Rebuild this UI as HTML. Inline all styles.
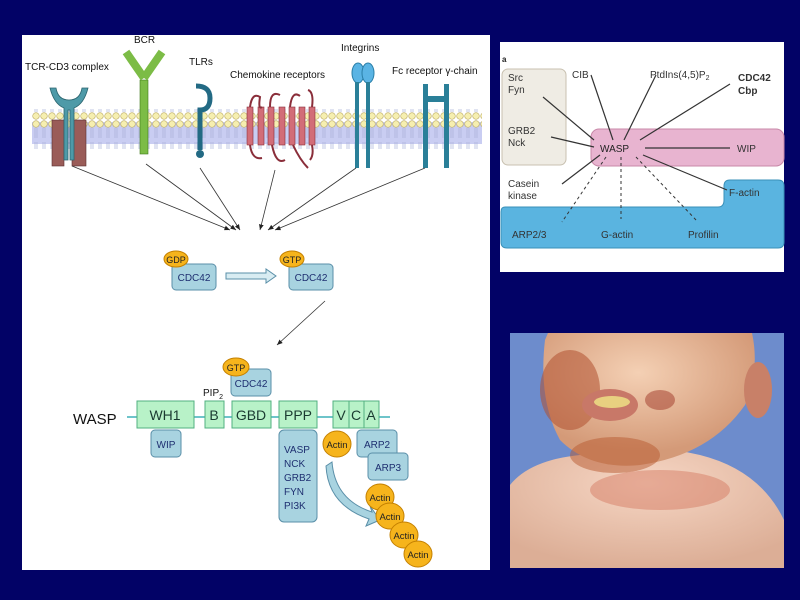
<!DOCTYPE html>
<html><head><meta charset="utf-8"><style>
html,body{margin:0;padding:0;background:#020266;width:800px;height:600px;overflow:hidden}
text{font-family:"Liberation Sans",Arial,sans-serif}
</style></head><body>
<svg width="800" height="600" viewBox="0 0 800 600" xmlns="http://www.w3.org/2000/svg">
<defs>
<pattern id="lip" x="0" y="0" width="8" height="40" patternUnits="userSpaceOnUse">
<circle cx="4" cy="4" r="3.3" fill="#f6efb0" stroke="#b8a860" stroke-width="0.6"/>
<circle cx="4" cy="36" r="3.3" fill="#f6efb0" stroke="#b8a860" stroke-width="0.6"/>
<path d="M3 8v10M5 8v10M3 22v10M5 22v10" stroke="#a8b0d8" stroke-width="0.7"/>
</pattern>
<marker id="ah" markerWidth="8" markerHeight="8" refX="7" refY="4" orient="auto"><path d="M0,1 L7,4 L0,7z" fill="#222"/></marker>
<radialGradient id="face" cx="0.45" cy="0.3" r="0.6"><stop offset="0" stop-color="#f4d0b4"/><stop offset="1" stop-color="#d49a78"/></radialGradient>
<radialGradient id="body" cx="0.5" cy="0.3" r="0.7"><stop offset="0" stop-color="#f6d6c4"/><stop offset="1" stop-color="#dcae96"/></radialGradient>
</defs>
<rect width="800" height="600" fill="#020266"/>
<!-- left panel -->
<rect x="22" y="35" width="468" height="535" fill="#fff"/>
<!-- membrane -->
<rect x="32" y="122" width="450" height="22" fill="#c9cdf2"/>
<rect x="32" y="109" width="450" height="40" fill="url(#lip)"/>
<!-- TCR -->
<rect x="52" y="120" width="12" height="46" fill="#9a5c58" stroke="#5a3030" stroke-width="0.6"/>
<rect x="72" y="120" width="14" height="46" fill="#9a5c58" stroke="#5a3030" stroke-width="0.6"/>
<path d="M50 88 Q54 104 64 108 L64 160 L68 160 L68 110 L70 110 L70 160 L74 160 L74 108 Q84 104 88 88 L82 88 Q80 100 69 100 Q58 100 56 88z" fill="#4e9aa8" stroke="#2c6670" stroke-width="0.8"/>
<text x="25" y="70" font-size="10" fill="#111">TCR-CD3 complex</text>
<!-- BCR -->
<rect x="140" y="80" width="8" height="74" fill="#7cbc46" stroke="#3f7a1a" stroke-width="0.6"/>
<path d="M144 78 L126 52 M144 78 L162 52" stroke="#7cbc46" stroke-width="8"/>
<text x="134" y="43" font-size="10" fill="#111">BCR</text>
<!-- TLR -->
<path d="M196 86 Q210 86 210 98 Q210 110 200 110 L200 150" stroke="#236a84" stroke-width="5" fill="none"/>
<circle cx="200" cy="154" r="4" fill="#236a84"/>
<text x="189" y="65" font-size="10" fill="#111">TLRs</text>
<!-- chemokine -->
<g fill="#d26d78" stroke="#8a2e3a" stroke-width="0.6">
<rect x="247" y="107" width="6" height="38"/><rect x="258" y="107" width="6" height="38"/><rect x="268" y="107" width="6" height="38"/><rect x="279" y="107" width="6" height="38"/><rect x="289" y="107" width="6" height="38"/><rect x="299" y="107" width="6" height="38"/><rect x="309" y="107" width="6" height="38"/>
</g>
<path d="M250 107 Q252 92 260 97 Q258 110 262 107 M270 107 Q270 90 280 95 M290 107 Q292 90 300 96 M312 107 Q314 92 308 90 M250 145 Q252 160 262 158 M272 145 Q276 165 285 160 M293 145 Q300 160 308 168 M312 145 Q314 155 310 160" stroke="#8a2e3a" stroke-width="2" fill="none"/>
<text x="230" y="78" font-size="10" fill="#111">Chemokine receptors</text>
<!-- integrins -->
<ellipse cx="358" cy="73" rx="6" ry="10" fill="#5ab4e4" stroke="#2a7fa8"/>
<ellipse cx="368" cy="73" rx="6" ry="10" fill="#5ab4e4" stroke="#2a7fa8"/>
<rect x="355" y="82" width="4" height="86" fill="#2a7f98"/><rect x="366" y="82" width="4" height="86" fill="#2a7f98"/>
<text x="341" y="51" font-size="10" fill="#111">Integrins</text>
<!-- Fc -->
<rect x="423" y="84" width="5" height="84" fill="#2a7f98"/><rect x="444" y="84" width="5" height="84" fill="#2a7f98"/>
<rect x="426" y="96" width="20" height="6" fill="#2a7f98"/>
<text x="392" y="74" font-size="10" fill="#111">Fc receptor γ-chain</text>
<!-- arrows -->
<g stroke="#333" stroke-width="0.8" marker-end="url(#ah)">
<line x1="72" y1="166" x2="230" y2="230"/><line x1="146" y1="164" x2="236" y2="230"/><line x1="200" y1="168" x2="240" y2="230"/><line x1="275" y1="170" x2="260" y2="230"/><line x1="356" y1="168" x2="268" y2="230"/><line x1="425" y1="168" x2="275" y2="230"/>
<line x1="325" y1="301" x2="277" y2="345"/>
</g>
<!-- CDC42 GDP -->
<rect x="172" y="264" width="44" height="26" rx="4" fill="#a8d3e0" stroke="#5a8fa8"/>
<text x="194" y="281" font-size="10" fill="#1e2f70" text-anchor="middle">CDC42</text>
<ellipse cx="176" cy="259" rx="12" ry="8" fill="#f6b41c" stroke="#c48000"/>
<text x="176" y="263" font-size="9" fill="#222" text-anchor="middle">GDP</text>
<path d="M226 273 L266 273 L266 269 L276 276 L266 283 L266 279 L226 279z" fill="#d8ecf2" stroke="#5a8fa8"/>
<rect x="289" y="264" width="44" height="26" rx="4" fill="#a8d3e0" stroke="#5a8fa8"/>
<text x="311" y="281" font-size="10" fill="#1e2f70" text-anchor="middle">CDC42</text>
<ellipse cx="292" cy="259" rx="12" ry="8" fill="#f6b41c" stroke="#c48000"/>
<text x="292" y="263" font-size="9" fill="#222" text-anchor="middle">GTP</text>
<!-- WASP -->
<line x1="127" y1="417" x2="390" y2="417" stroke="#3fb0b8" stroke-width="1.5"/>
<text x="73" y="424" font-size="15" fill="#111">WASP</text>
<g fill="#b8f2c8" stroke="#52b080">
<rect x="137" y="401" width="57" height="27"/><rect x="205" y="401" width="19" height="27"/><rect x="232" y="401" width="39" height="27"/><rect x="279" y="401" width="38" height="27"/><rect x="333" y="401" width="16" height="27"/><rect x="349" y="401" width="15" height="27"/><rect x="364" y="401" width="15" height="27"/>
</g>
<g font-size="14" fill="#1a3a30" text-anchor="middle">
<text x="165" y="420">WH1</text><text x="214" y="420">B</text><text x="251" y="420">GBD</text><text x="298" y="420">PPP</text><text x="341" y="420">V</text><text x="356" y="420">C</text><text x="371" y="420">A</text>
</g>
<text x="203" y="396" font-size="10" fill="#111">PIP<tspan font-size="7" dy="3">2</tspan></text>
<rect x="231" y="369" width="40" height="27" rx="4" fill="#a8d3e0" stroke="#5a8fa8"/>
<text x="251" y="387" font-size="10" fill="#1e2f70" text-anchor="middle">CDC42</text>
<ellipse cx="236" cy="367" rx="13" ry="9" fill="#f6b41c" stroke="#c48000"/>
<text x="236" y="371" font-size="9" fill="#222" text-anchor="middle">GTP</text>
<rect x="151" y="430" width="30" height="27" rx="4" fill="#a8d3e0" stroke="#5a8fa8"/>
<text x="166" y="448" font-size="10" fill="#1e2f70" text-anchor="middle">WIP</text>
<rect x="279" y="430" width="38" height="92" rx="5" fill="#a8d3e0" stroke="#5a8fa8"/>
<g font-size="10" fill="#1e2f70"><text x="284" y="453">VASP</text><text x="284" y="467">NCK</text><text x="284" y="481">GRB2</text><text x="284" y="495">FYN</text><text x="284" y="509">PI3K</text></g>
<rect x="357" y="430" width="40" height="27" rx="4" fill="#a8d3e0" stroke="#5a8fa8"/>
<text x="377" y="448" font-size="10" fill="#1e2f70" text-anchor="middle">ARP2</text>
<rect x="368" y="453" width="40" height="27" rx="4" fill="#a8d3e0" stroke="#5a8fa8"/>
<text x="388" y="471" font-size="10" fill="#1e2f70" text-anchor="middle">ARP3</text>
<path d="M332 462 Q335 500 372 512 L370 506 L380 520 L366 526 L369 519 Q328 505 326 466z" fill="#a8d3e0" stroke="#5a8fa8"/>
<g fill="#f6b41c" stroke="#c48000">
<ellipse cx="337" cy="444" rx="14" ry="13"/>
<ellipse cx="380" cy="497" rx="14" ry="13"/><ellipse cx="390" cy="516" rx="14" ry="13"/><ellipse cx="404" cy="535" rx="14" ry="13"/><ellipse cx="418" cy="554" rx="14" ry="13"/>
</g>
<g font-size="9.5" fill="#222" text-anchor="middle">
<text x="337" y="448">Actin</text><text x="380" y="501">Actin</text><text x="390" y="520">Actin</text><text x="404" y="539">Actin</text><text x="418" y="558">Actin</text>
</g>
<!-- top right -->
<rect x="500" y="42" width="284" height="230" fill="#fff"/>
<text x="502" y="62" font-size="8" font-weight="bold" fill="#222">a</text>
<rect x="502" y="69" width="64" height="96" rx="6" fill="#efece4" stroke="#c8c0b0"/>
<rect x="591" y="129" width="193" height="37" rx="8" fill="#e8b4d0" stroke="#c888a8"/>
<path d="M505 207 L718 207 Q724 207 724 200 L724 186 Q724 180 730 180 L778 180 Q784 180 784 186 L784 242 Q784 248 778 248 L507 248 Q501 248 501 242 L501 212 Q501 207 505 207z" fill="#5ab4e0" stroke="#3a90b8"/>
<g stroke="#333" stroke-width="1.2" fill="none">
<line x1="543" y1="97" x2="594" y2="140"/><line x1="591" y1="75" x2="613" y2="140"/><line x1="656" y1="75" x2="624" y2="140"/><line x1="730" y1="84" x2="640" y2="140"/><line x1="551" y1="137" x2="594" y2="147"/><line x1="645" y1="148" x2="730" y2="148"/><line x1="562" y1="184" x2="600" y2="155"/><line x1="643" y1="155" x2="727" y2="190"/>
</g>
<g stroke="#333" stroke-width="1" stroke-dasharray="3,3"><line x1="606" y1="157" x2="562" y2="222"/><line x1="621" y1="157" x2="621" y2="219"/><line x1="636" y1="157" x2="697" y2="221"/></g>
<g font-size="10" fill="#333">
<text x="508" y="81">Src</text><text x="508" y="93">Fyn</text><text x="508" y="134">GRB2</text><text x="508" y="146">Nck</text><text x="508" y="187">Casein</text><text x="508" y="199">kinase</text>
<text x="572" y="78">CIB</text><text x="650" y="78">PtdIns(4,5)P<tspan font-size="7" dy="2">2</tspan></text>
<text x="738" y="81" font-weight="bold">CDC42</text><text x="738" y="94" font-weight="bold">Cbp</text>
<text x="600" y="152" fill="#222">WASP</text><text x="737" y="152">WIP</text>
<text x="729" y="196">F-actin</text><text x="512" y="238">ARP2/3</text><text x="601" y="238">G-actin</text><text x="688" y="238">Profilin</text>
</g>
<!-- photo -->
<rect x="510" y="333" width="274" height="235" fill="#6d8ccc"/>
<path d="M510 485 Q530 460 580 455 Q640 440 700 455 Q760 470 784 520 L784 568 L510 568z" fill="url(#body)"/>
<path d="M545 340 Q538 400 560 440 Q590 470 640 465 Q710 455 745 405 Q760 370 752 333 L548 333z" fill="url(#face)"/>
<ellipse cx="758" cy="390" rx="14" ry="28" fill="#c88068"/>
<ellipse cx="570" cy="390" rx="30" ry="40" fill="#b05030" opacity="0.55"/>
<ellipse cx="615" cy="455" rx="45" ry="18" fill="#b85a30" opacity="0.5"/>
<ellipse cx="660" cy="490" rx="70" ry="20" fill="#d06850" opacity="0.4"/>
<ellipse cx="610" cy="405" rx="28" ry="16" fill="#c87868"/>
<ellipse cx="612" cy="402" rx="18" ry="6" fill="#e8d080"/>
<ellipse cx="660" cy="400" rx="15" ry="10" fill="#a03828" opacity="0.5"/>
</svg>
</body></html>
